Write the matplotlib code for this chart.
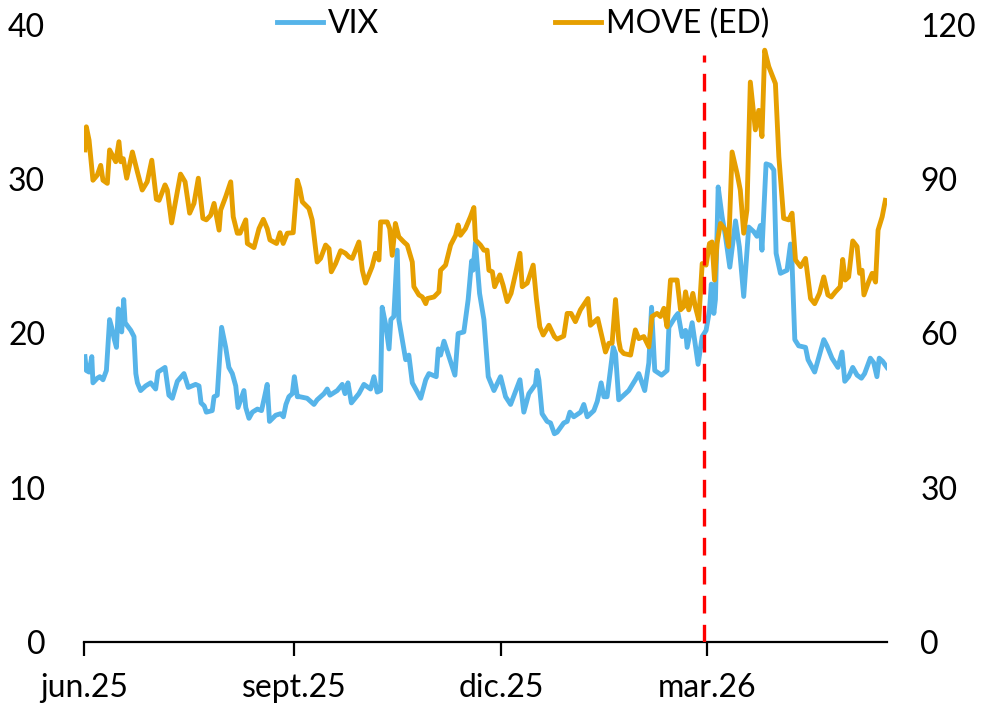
import numpy as np
import pandas as pd
import matplotlib
matplotlib.use("Agg")
import matplotlib.pyplot as plt

plt.rcParams['font.family'] = ['Lato', 'DejaVu Sans']

start = pd.Timestamp('2025-06-01')

# days after 1 jun 2025, VIX level (left axis)
vix_days = [0.4, 1.0, 2.2, 3.4, 3.9, 5.8, 6.9, 8.3, 9.8, 11.2, 12.1, 13.3, 14.2, 15.0, 15.9,
            16.5, 17.4, 18.0, 19.0, 20.5, 21.9, 22.7, 23.4, 24.8, 27.0, 29.2, 31.4, 32.4, 35.5,
            37.2, 38.7, 40.9, 43.8, 45.7, 48.9, 50.4, 51.3, 52.7, 53.6, 56.2, 57.0, 58.4, 60.3,
            62.1, 63.5, 65.0, 66.5, 67.5, 70.1, 70.9, 72.3, 73.8, 76.0, 77.8, 79.0, 80.3, 81.3,
            84.0, 86.2, 87.4, 88.5, 89.8, 91.3, 92.2, 93.5, 94.6, 97.8, 100.8, 102.2, 105.2,
            106.6, 107.8, 111.0, 113.2, 114.4, 115.7, 117.2, 120.5, 122.7, 125.6, 127.1, 128.5,
            130.0, 130.7, 132.2, 133.7, 134.5, 135.8, 137.3, 138.0, 139.5, 141.0, 142.4, 143.9,
            147.6, 149.8, 151.2, 154.4, 155.3, 156.3, 157.8, 160.0, 162.6, 164.0, 166.5, 168.4,
            169.9, 170.5, 171.6, 173.4, 175.3, 177.2, 179.7, 182.6, 184.8, 187.0, 191.1, 192.8,
            195.0, 197.9, 198.6, 199.4, 200.8, 203.0, 204.5, 206.2, 207.4, 210.3, 211.8, 213.0,
            214.7, 217.7, 219.1, 220.6, 223.5, 225.0, 226.7, 227.9, 229.3, 232.0, 233.0, 234.4,
            236.6, 238.8, 241.7, 243.2, 245.8, 247.6, 248.8, 250.2, 253.2, 255.6, 256.4, 259.3,
            260.4, 262.2, 263.7, 264.4, 266.6, 269.2, 271.0, 272.7, 274.2, 275.0, 276.1, 276.8,
            278.0, 279.7, 281.2, 283.1, 285.6, 287.3, 289.2, 291.4, 293.6, 295.0, 296.5, 297.2,
            299.0, 300.9, 302.4, 303.4, 305.3, 308.2, 309.7, 310.4, 311.6, 313.3, 316.3, 317.4,
            320.3, 324.3, 325.7, 327.9, 330.5, 332.3, 333.5, 335.2, 337.0, 338.9, 340.8, 342.2,
            344.7, 346.2, 347.6, 348.6, 350.1, 352.0]
vix = [18.5, 17.6, 17.5, 18.5, 16.8, 17.1, 17.2, 17.0, 17.6, 20.9, 20.4, 19.6, 19.1, 21.6, 21.3,
       20.1, 22.2, 20.7, 20.5, 20.2, 19.8, 17.4, 16.8, 16.3, 16.6, 16.8, 16.4, 17.5, 17.8,
       16.0, 15.8, 16.9, 17.4, 16.5, 16.7, 16.6, 15.5, 15.3, 14.9, 15.0, 15.9, 16.0, 20.4,
       19.1, 17.8, 17.4, 16.6, 15.2, 16.3, 15.2, 14.5, 14.9, 15.1, 15.0, 15.8, 16.7, 14.3,
       14.7, 14.8, 14.6, 15.4, 15.9, 16.1, 17.2, 15.9, 15.9, 15.8, 15.4, 15.7, 16.1,
       16.4, 16.0, 16.3, 16.7, 16.1, 16.8, 15.5, 16.1, 16.7, 16.4, 17.2, 16.2,
       16.3, 21.7, 20.6, 19.0, 20.9, 21.1, 25.4, 20.9, 19.6, 18.3, 18.6, 16.8,
       15.8, 17.0, 17.4, 17.2, 19.0, 18.6, 19.5, 18.5, 17.3, 20.0, 20.1, 22.2,
       24.7, 24.1, 25.9, 22.6, 20.9, 17.2, 16.3, 17.2, 15.9, 15.4, 17.0, 14.9,
       16.1, 16.7, 17.6, 17.0, 14.8, 14.3, 14.2, 13.5, 13.6, 14.2, 14.3, 14.9,
       14.6, 14.9, 15.4, 14.6, 15.0, 15.6, 16.8, 15.9, 15.9, 19.1, 18.7, 15.7,
       16.0, 16.3, 17.0, 17.4, 16.3, 18.1, 21.7, 17.6, 17.3, 17.6, 20.4, 21.1,
       21.3, 19.8, 20.2, 19.1, 20.7, 18.0, 19.8, 20.2, 21.5, 23.2, 21.3, 22.2,
       29.5, 27.6, 26.3, 24.3, 27.3, 25.6, 22.4, 26.9, 26.6, 26.3, 27.0, 25.4,
       31.0, 30.9, 30.6, 25.2, 23.9, 24.1, 25.8, 24.5, 19.6, 19.2, 19.1, 18.3,
       17.5, 19.6, 19.2, 18.4, 17.8, 18.8, 16.9, 17.2, 17.8, 17.3, 17.1, 17.4,
       18.4, 18.1, 17.2, 18.4, 18.2, 17.8]

# days after 1 jun 2025, MOVE level (right axis)
move_days = [0.4, 1.0, 2.2, 3.9, 5.8, 7.3, 8.3, 10.2, 11.2, 12.4, 13.9, 15.3, 16.1, 17.2, 18.7,
             21.2, 23.4, 25.5, 27.7, 29.7, 31.7, 32.9, 35.5, 36.5, 38.4, 40.2, 42.3, 44.3, 46.3,
             48.2, 50.1, 52.1, 53.6, 55.5, 57.0, 59.2, 59.9, 62.1, 64.3, 65.4, 67.2, 68.4, 70.9,
             71.6, 74.5, 76.7, 78.6, 80.3, 81.5, 84.4, 85.9, 87.3, 89.1, 91.7, 93.5, 94.6, 95.7,
             98.6, 100.0, 102.2, 103.7, 105.9, 107.4, 108.4, 110.3, 112.5, 114.6, 116.1, 117.6,
             120.5, 122.0, 123.4, 126.3, 127.8, 129.3, 130.0, 132.9, 134.0, 135.1, 136.5, 138.0,
             140.2, 141.7, 143.9, 144.6, 146.8, 148.3, 149.8, 150.5, 153.4, 155.6, 156.3, 158.5,
             160.7, 162.9, 164.0, 165.0, 167.2, 169.4, 170.9, 171.6, 173.8, 175.3, 176.7, 177.5,
             179.0, 180.0, 182.3, 183.7, 185.5, 187.2, 189.2, 191.1, 192.1, 194.3, 196.9, 198.3,
             199.8, 201.3, 203.8, 206.2, 207.4, 210.3, 211.8, 213.5, 215.4, 217.6, 220.9, 222.0,
             225.2, 228.6, 230.1, 231.5, 233.0, 234.4, 235.2, 236.6, 239.6, 241.7, 243.2, 245.4,
             247.6, 249.0, 251.2, 252.7, 254.2, 255.6, 257.1, 260.0, 261.5, 262.9, 263.7, 265.1,
             266.9, 268.0, 269.5, 271.0, 272.7, 274.2, 275.3, 276.4, 277.5, 279.0, 281.2, 282.6,
             284.1, 286.3, 287.7, 289.2, 290.6, 292.1, 294.3, 295.8, 297.2, 298.4, 300.2, 303.1,
             304.6, 306.7, 308.9, 310.4, 311.9, 314.1, 316.3, 318.5, 320.3, 322.4, 324.3, 326.1,
             327.6, 329.4, 331.5, 332.6, 333.7, 335.2, 337.0, 338.9, 340.0, 341.1, 341.9, 344.0,
             345.5, 347.0, 348.1, 349.9, 351.3]
move = [95.7, 100.2, 97.6, 89.8, 90.8, 92.7, 89.8, 89.2, 95.7, 94.7, 93.4, 97.3, 93.4, 94.0, 90.2,
        95.3, 91.4, 87.9, 89.5, 93.7, 86.1, 85.9, 88.9, 87.9, 81.5, 85.9, 91.0, 89.5, 83.4,
        85.3, 90.2, 82.4, 82.1, 83.0, 85.3, 80.1, 84.0, 86.6, 89.5, 82.7, 79.5, 79.5, 82.1,
        77.5, 76.7, 80.4, 82.2, 80.4, 78.2, 77.5, 79.6, 77.5, 79.5, 79.6, 89.8, 88.2, 85.6,
        84.3, 82.1, 73.9, 74.6, 77.2, 76.5, 72.0, 73.6, 76.1, 75.6, 74.9, 74.6,
        77.8, 72.3, 69.8, 73.0, 75.6, 74.3, 81.7, 81.7, 80.4, 75.2, 81.4, 78.8,
        77.8, 77.2, 73.9, 69.1, 67.5, 67.1, 65.8, 66.8, 67.1, 68.1, 72.3, 73.3,
        77.2, 79.1, 81.1, 79.1, 80.4, 82.7, 84.5, 78.2, 77.2, 76.2, 76.2, 72.3,
        72.0, 69.1, 71.4, 69.4, 66.2, 67.8, 71.7, 75.6, 69.1, 69.8, 73.3, 66.8,
        61.3, 59.7, 61.6, 59.4, 58.9, 59.5, 63.9, 63.9, 62.3, 64.6, 66.8, 61.6,
        62.9, 56.4, 58.1, 58.1, 66.6, 58.7, 56.8, 56.1, 55.8, 60.7, 59.0, 59.4,
        57.4, 63.3, 63.9, 63.3, 64.9, 61.3, 70.4, 70.4, 64.6, 65.2, 68.1, 64.6,
        67.8, 65.2, 62.6, 73.6, 73.3, 77.5, 77.8, 70.4, 77.5, 81.4, 80.1, 76.9,
        95.3, 91.1, 87.9, 79.5, 84.0, 108.9, 99.6, 103.4, 98.3, 115.1, 111.9, 108.6,
        94.4, 82.4, 82.1, 83.4, 74.3, 73.0, 74.6, 66.8, 65.8, 67.8, 71.0, 67.5,
        67.1, 68.1, 69.1, 74.4, 70.4, 71.0, 78.0, 76.9, 71.7, 72.3, 67.5, 70.1,
        71.7, 70.0, 80.1, 82.7, 85.9]

tick_dates = ['2025-06-01', '2025-09-01', '2025-12-01', '2026-03-01']
tick_labels = ['jun.25', 'sept.25', 'dic.25', 'mar.26']
event_date = '2026-02-28'
end_date = '2026-05-19'

vix_x = start + pd.to_timedelta(vix_days, unit='D')
move_x = start + pd.to_timedelta(move_days, unit='D')

fig = plt.figure(figsize=(9.83, 7.10), dpi=100)
ax = fig.add_axes([0.0855, 0.0958, 0.8168, 0.869])
ax2 = ax.twinx()

l1, = ax.plot(vix_x, vix, color='#56B4E9', lw=3.5, solid_joinstyle='round', label='VIX')
l2, = ax2.plot(move_x, move, color='#E69F00', lw=3.5, solid_joinstyle='round', label='MOVE (ED)')
ax2.axvline(pd.Timestamp(event_date), ymin=0, ymax=0.952, color='#FF0000', lw=2.4,
            dashes=(5.3, 3.4))

ax.set_xlim(start, pd.Timestamp(end_date))
ax.set_ylim(0, 40)
ax2.set_ylim(0, 120)
ax.set_yticks([0, 10, 20, 30, 40])
ax2.set_yticks([0, 30, 60, 90, 120])
ax.set_xticks(pd.to_datetime(tick_dates))
ax.set_xticklabels(tick_labels)

for a in (ax, ax2):
    for s in ('top', 'left', 'right'):
        a.spines[s].set_visible(False)
    a.spines['bottom'].set_linewidth(1.6)
ax2.spines['bottom'].set_visible(False)

ax.tick_params(axis='x', length=10, width=1.6, pad=12, labelsize=23)
ax.tick_params(axis='y', length=0, pad=28, labelsize=23)
ax2.tick_params(axis='y', length=0, pad=24, labelsize=23)

fig.legend(handles=[l1, l2], loc='center', bbox_to_anchor=(0.532, 0.966), ncol=2,
           frameon=False, fontsize=23, handlelength=1.45, handletextpad=0.15,
           columnspacing=5.5)

fig.savefig('out.png', dpi=100)
